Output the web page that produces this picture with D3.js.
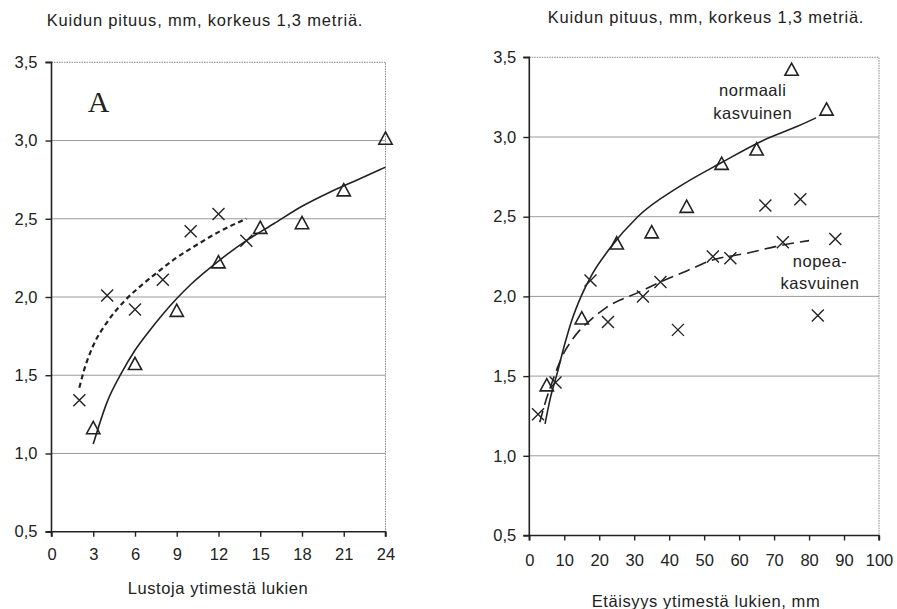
<!DOCTYPE html>
<html><head><meta charset="utf-8">
<script src="https://cdn.jsdelivr.net/npm/d3@7"></script>
<style>
body{margin:0;background:#fff;}
svg{display:block;font-family:"Liberation Sans",Arial,sans-serif;}
</style></head><body>
<svg id="c" width="897" height="609"></svg>
<script>
// ---- Data: left panel (A) ----
const yTicks = [0.5,1.0,1.5,2.0,2.5,3.0,3.5];
const leftXTicks = [0,3,6,9,12,15,18,21,24];
const leftTriX = [3,6,9,12,15,18,21,24];
const leftTriY = [1.16,1.57,1.91,2.22,2.44,2.47,2.68,3.01];
const leftCrossX = [2,4,6,8,10,12,14];
const leftCrossY = [1.34,2.01,1.92,2.11,2.42,2.53,2.36];
const leftSolidX = [3,4,5,6,7,8,9,10,12,14,16,18,20,22,24];
const leftSolidY = [1.06,1.33,1.51,1.66,1.78,1.89,1.99,2.08,2.23,2.36,2.47,2.58,2.67,2.75,2.83];
const leftDashX = [2,2.3,3,4,5.3,6.4,7.5,8.8,10.2,12.1,14];
const leftDashY = [1.42,1.52,1.69,1.84,1.98,2.07,2.15,2.24,2.32,2.42,2.50];

// ---- Data: right panel ----
const rightXTicks = [0,10,20,30,40,50,60,70,80,90,100];
const rightTriX = [5,15,25,35,45,55,65,75,85];
const rightTriY = [1.44,1.86,2.33,2.40,2.56,2.83,2.92,3.42,3.17];
const rightCrossX = [2.5,7.5,17.5,22.5,32.5,37.5,42.5,52.5,57.5,67.5,72.5,77.5,82.5,87.5];
const rightCrossY = [1.26,1.46,2.10,1.84,2.00,2.09,1.79,2.25,2.24,2.57,2.34,2.61,1.88,2.36];
const rightSolidX = [4.5,6,8,10,12,15,18,23,31,43,55,67,77,82];
const rightSolidY = [1.20,1.36,1.52,1.69,1.84,2.01,2.14,2.30,2.50,2.69,2.84,2.98,3.07,3.12];
const rightDashX = [3,4.5,6.5,8,10,12,14.5,17.4,22,31.7,37.4,45,52.6,62,72,80];
const rightDashY = [1.21,1.33,1.46,1.55,1.65,1.72,1.79,1.85,1.93,2.03,2.09,2.16,2.23,2.27,2.32,2.35];

const titleText = "Kuidun pituus, mm, korkeus 1,3 metriä.";
const leftXLabel = "Lustoja ytimestä lukien";
const rightXLabel = "Etäisyys ytimestä lukien, mm";

const svg = d3.select("#c");
const ink = "#222";
const FS = 16.5;
const fmt = d => d3.format(".1f")(d).replace(".", ",");

function panel(o){
  const g = svg.append("g");
  const x = d3.scaleLinear().domain(o.xDomain).range([o.x0, o.x1]);
  const y = d3.scaleLinear().domain([0.5,3.5]).range([o.y1, o.y0]);
  g.selectAll("line.grid").data(yTicks.filter(d=>d>0.5 && d<3.5)).join("line")
    .attr("x1", o.x0).attr("x2", o.x1).attr("y1", d=>y(d)).attr("y2", d=>y(d))
    .attr("stroke", "#9a9a9a").attr("stroke-width", 1);
  g.append("path").attr("d", `M${o.x0},${y(3.5)}H${o.x1}V${y(0.5)}`)
    .attr("fill","none").attr("stroke","#888").attr("stroke-width",1).attr("stroke-dasharray","1.5,1");
  const ya = d3.axisLeft(y).tickValues(yTicks).tickFormat(fmt).tickSize(6).tickPadding(o.yPad);
  const yg = g.append("g").attr("transform", `translate(${o.x0},0)`).call(ya);
  const xa = d3.axisBottom(x).tickValues(o.xTicks).tickFormat(d=>d).tickSize(5).tickPadding(o.xPad);
  const xg = g.append("g").attr("transform", `translate(0,${y(0.5)})`).call(xa);
  [yg,xg].forEach(a=>{
    a.select(".domain").attr("stroke", ink).attr("stroke-width",1.6);
    a.selectAll(".tick line").attr("stroke", ink).attr("stroke-width",1.4);
    a.selectAll("text").attr("fill", ink).attr("font-size", FS)
      .attr("font-family","Liberation Sans, Arial, sans-serif");
  });
  yg.select(".domain").attr("d", `M-6,${y(3.5)}H0V${y(0.5)}H-6`);
  xg.select(".domain").attr("d", `M${o.x0},5V0H${o.x1}V5`);

  const line = d3.line().x(d=>x(d[0])).y(d=>y(d[1])).curve(d3.curveMonotoneX);
  g.append("path").datum(d3.zip(o.solidX, o.solidY)).attr("d", line)
    .attr("fill","none").attr("stroke", ink).attr("stroke-width", 1.6);
  g.append("path").datum(d3.zip(o.dashX, o.dashY)).attr("d", line)
    .attr("fill","none").attr("stroke", ink).attr("stroke-width", o.dashW).attr("stroke-dasharray", o.dash);

  const s = 7;
  g.selectAll("path.tri").data(d3.zip(o.triX, o.triY)).join("path")
    .attr("d", d=>{const cx=x(d[0]), cy=y(d[1]); return `M${cx},${cy-s}L${cx+s*0.95},${cy+s*0.75}L${cx-s*0.95},${cy+s*0.75}Z`;})
    .attr("fill","none").attr("stroke", ink).attr("stroke-width",1.6);
  const c = 6;
  g.selectAll("path.cr").data(d3.zip(o.crX, o.crY)).join("path")
    .attr("d", d=>{const cx=x(d[0]), cy=y(d[1]); return `M${cx-c},${cy-c}L${cx+c},${cy+c}M${cx-c},${cy+c}L${cx+c},${cy-c}`;})
    .attr("fill","none").attr("stroke", ink).attr("stroke-width",1.4);

  g.append("text").attr("x", o.titleX).attr("y", o.titleY).attr("text-anchor","middle")
    .attr("font-size",FS).attr("letter-spacing",0.8).attr("fill",ink).text(titleText);
  g.append("text").attr("x", o.xlabX).attr("y", o.xlabY).attr("text-anchor","middle")
    .attr("font-size",FS).attr("letter-spacing",0.6).attr("fill",ink).text(o.xlab);
  return {g,x,y};
}

const L = panel({xDomain:[0,24], x0:51.5, x1:385.5, y0:62.3, y1:531.7, xTicks:leftXTicks, xPad:12, yPad:8,
  triX:leftTriX, triY:leftTriY, crX:leftCrossX, crY:leftCrossY,
  solidX:leftSolidX, solidY:leftSolidY, dashX:leftDashX, dashY:leftDashY, dash:"5,3.5", dashW:2.2,
  titleX:205, titleY:26, xlab:leftXLabel, xlabX:218, xlabY:594});
L.g.append("text").attr("x", L.x(2.6)).attr("y", L.y(3.18)).attr("font-family","Liberation Serif, Times New Roman, serif")
  .attr("font-size",30).attr("fill",ink).text("A");

const R = panel({xDomain:[0,100], x0:529.3, x1:879, y0:57.3, y1:535.5, xTicks:rightXTicks, xPad:14, yPad:7,
  triX:rightTriX, triY:rightTriY, crX:rightCrossX, crY:rightCrossY,
  solidX:rightSolidX, solidY:rightSolidY, dashX:rightDashX, dashY:rightDashY, dash:"12,6", dashW:1.6,
  titleX:706, titleY:23, xlab:rightXLabel, xlabX:706, xlabY:607});
const lab = [["normaali",752.7,96],["kasvuinen",752.7,119],["nopea-",820,267],["kasvuinen",820,289]];
R.g.selectAll("text.lab").data(lab).join("text").attr("x",d=>d[1]).attr("y",d=>d[2])
  .attr("text-anchor","middle").attr("font-size",FS).attr("letter-spacing",0.5).attr("fill",ink).text(d=>d[0]);
</script>
</body></html>
